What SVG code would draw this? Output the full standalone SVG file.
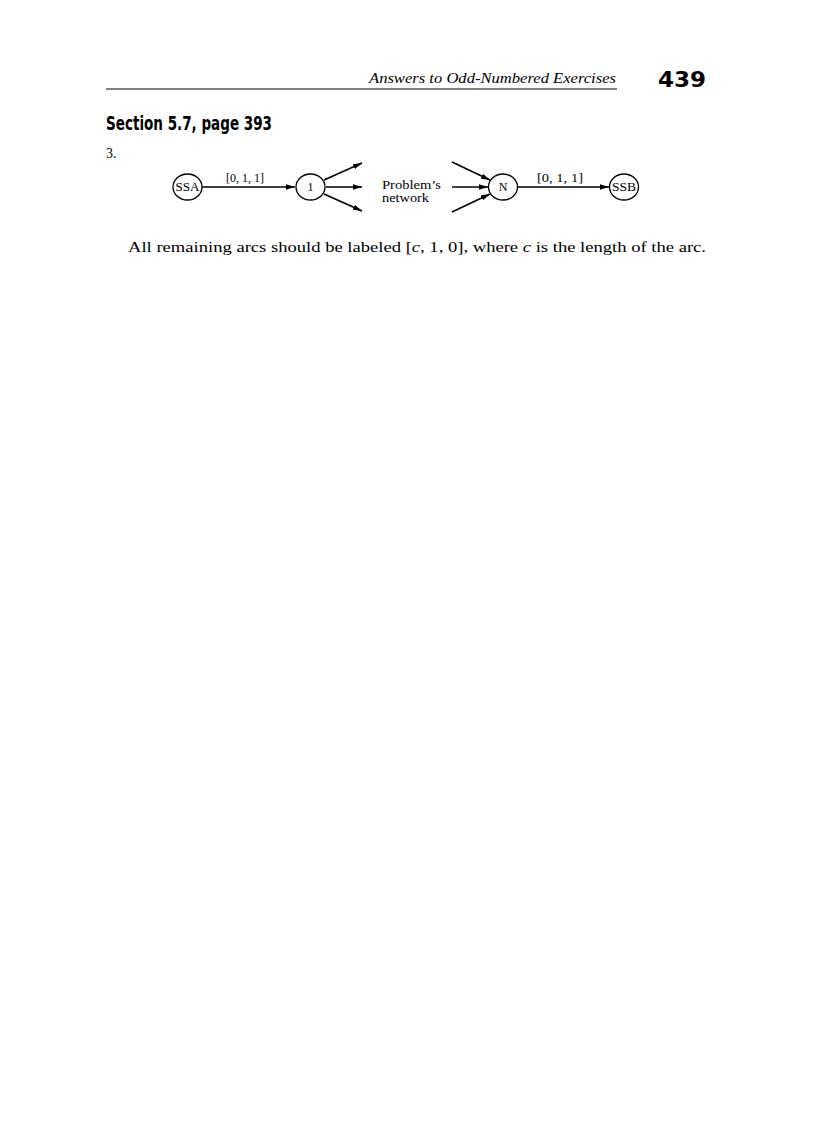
<svg xmlns="http://www.w3.org/2000/svg" width="816" height="1123" viewBox="0 0 816 1123">
<style>
.serif{font-family:"Liberation Serif","Times New Roman",serif;fill:#000}
.cond{font-family:"Liberation Sans Narrow","DejaVu Sans Condensed","Liberation Sans",sans-serif;font-weight:bold;fill:#000}
.node{fill:#fff;stroke:#000;stroke-width:1.3}
.lbl{font-family:"Liberation Serif","Times New Roman",serif;font-size:11.5px;fill:#000}
.nl{font-family:"Liberation Serif","Times New Roman",serif;font-size:12px;fill:#000;text-anchor:middle}
.edge{stroke:#000;stroke-width:1.6;fill:none}
</style>
<defs>
<marker id="ah" viewBox="0 0 10 6" refX="10" refY="3" markerWidth="9" markerHeight="5.4" markerUnits="userSpaceOnUse" orient="auto">
<path d="M0,0 L10,3 L0,6 Z" fill="#000"/>
</marker>
</defs>
<rect width="816" height="1123" fill="#fff"/>
<g id="header">
<text class="serif" x="369" y="83" font-size="14" font-style="italic" textLength="247" lengthAdjust="spacingAndGlyphs">Answers to Odd-Numbered Exercises</text>
<text class="cond" x="658" y="87" font-size="21" textLength="48" lengthAdjust="spacingAndGlyphs">439</text>
<line x1="106" y1="89" x2="617" y2="89" stroke="#000" stroke-width="1"/>
</g>
<g id="section">
<text class="cond" x="106" y="130" font-size="19" textLength="166" lengthAdjust="spacingAndGlyphs">Section 5.7, page 393</text>
<text class="serif" x="106" y="158" font-size="14">3.</text>
</g>
<g id="connectors">
<line class="edge" x1="202" y1="187" x2="295" y2="187" marker-end="url(#ah)"/>
<line class="edge" x1="324" y1="180" x2="362" y2="163" marker-end="url(#ah)"/>
<line class="edge" x1="326" y1="187" x2="362" y2="187" marker-end="url(#ah)"/>
<line class="edge" x1="324" y1="194" x2="362" y2="211" marker-end="url(#ah)"/>
<line class="edge" x1="452" y1="162" x2="490" y2="180" marker-end="url(#ah)"/>
<line class="edge" x1="452" y1="187" x2="488" y2="187" marker-end="url(#ah)"/>
<line class="edge" x1="452" y1="212" x2="490" y2="194" marker-end="url(#ah)"/>
<line class="edge" x1="518" y1="187" x2="609" y2="187" marker-end="url(#ah)"/>
<text class="lbl" x="226" y="182" textLength="38" lengthAdjust="spacingAndGlyphs">[0, 1, 1]</text>
<text class="lbl" x="537" y="182" textLength="46" lengthAdjust="spacingAndGlyphs">[0, 1, 1]</text>
</g>
<g id="node-SSA">
<ellipse class="node" cx="187.5" cy="187" rx="14.5" ry="13"/>
<text class="nl" x="187.5" y="191" textLength="24" lengthAdjust="spacingAndGlyphs">SSA</text>
</g>
<g id="node-1">
<ellipse class="node" cx="310.5" cy="187" rx="14.5" ry="13"/>
<text class="nl" x="310.5" y="191" font-size="11">1</text>
</g>
<g id="node-problem">
<text class="lbl" x="382" y="189" textLength="59" lengthAdjust="spacingAndGlyphs">Problem’s</text>
<text class="lbl" x="382" y="202" textLength="47" lengthAdjust="spacingAndGlyphs">network</text>
</g>
<g id="node-N">
<ellipse class="node" cx="503" cy="187" rx="14.5" ry="13"/>
<text class="nl" x="503" y="191" font-size="11">N</text>
</g>
<g id="node-SSB">
<ellipse class="node" cx="624" cy="187" rx="14.5" ry="13"/>
<text class="nl" x="624" y="191" textLength="24" lengthAdjust="spacingAndGlyphs">SSB</text>
</g>
<g id="body">
<text class="serif" x="128" y="252" font-size="15.5" textLength="578" lengthAdjust="spacingAndGlyphs">All remaining arcs should be labeled [<tspan font-style="italic">c</tspan>, 1, 0], where <tspan font-style="italic">c</tspan> is the length of the arc.</text>
</g>
</svg>
